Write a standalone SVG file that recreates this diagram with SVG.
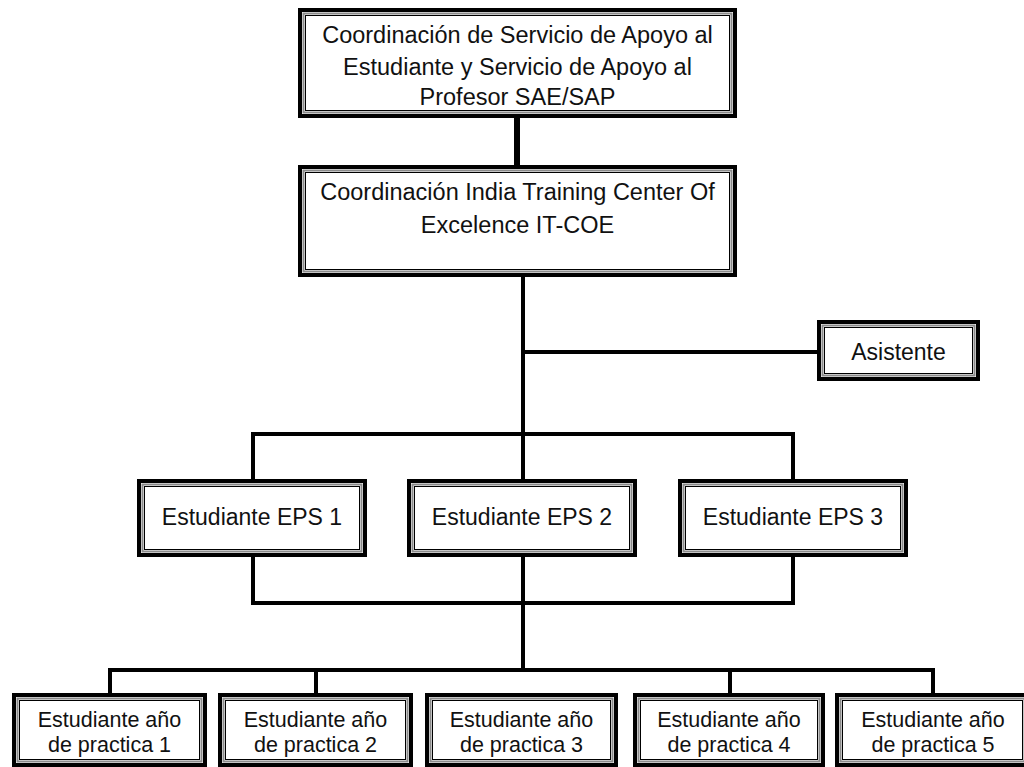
<svg xmlns="http://www.w3.org/2000/svg" width="1024" height="767" viewBox="0 0 1024 767">
  <style>
    .o { fill: #fff; stroke: #000; stroke-width: 4; }
    .g { fill: none; stroke: #8a8a8a; stroke-width: 2; }
    .i { fill: none; stroke: #000; stroke-width: 1; }
    .t { font-family: "Liberation Sans", Arial, sans-serif; font-size: 23px; fill: #111; text-anchor: middle; }
    .l { font-size: 23.5px; }
    .s { font-size: 21.5px; }
    .c { stroke: #000; stroke-width: 4; fill: none; stroke-linecap: square; }
  </style>

  <!-- connectors -->
  <g id="connectors">
    <line class="c" x1="517" y1="118" x2="517" y2="165" style="stroke-width:6"/>
    <line class="c" x1="523" y1="277" x2="523" y2="670"/>
    <line class="c" x1="523" y1="352" x2="817" y2="352"/>
    <polyline class="c" points="253,479 253,434 793,434 793,479"/>
    <polyline class="c" points="253,557 253,603 793,603 793,557"/>
    <polyline class="c" points="110,693 110,670 933,670 933,693"/>
    <line class="c" x1="316" y1="670" x2="316" y2="693"/>
    <line class="c" x1="730" y1="670" x2="730" y2="693"/>
  </g>

  <!-- Coordinación SAE/SAP -->
  <g id="sae-sap">
    <rect class="o" x="300" y="10" width="435" height="106"/>
    <rect class="g" x="303.5" y="13.5" width="428" height="99"/>
    <rect class="i" x="305.5" y="15.5" width="424" height="95"/>
    <text class="t l" x="517.5" y="43">Coordinación de Servicio de Apoyo al</text>
    <text class="t l" x="517.5" y="75">Estudiante y Servicio de Apoyo al</text>
    <text class="t l" x="517.5" y="105">Profesor SAE/SAP</text>
  </g>

  <!-- Coordinación IT-COE -->
  <g id="it-coe">
    <rect class="o" x="300" y="167" width="435" height="108"/>
    <rect class="g" x="303.5" y="170.5" width="428" height="101"/>
    <rect class="i" x="305.5" y="172.5" width="424" height="97"/>
    <text class="t l" x="517.5" y="200">Coordinación India Training Center Of</text>
    <text class="t l" x="517.5" y="233">Excelence IT-COE</text>
  </g>

  <!-- Asistente -->
  <g id="asistente">
    <rect class="o" x="819" y="322" width="159" height="57"/>
    <rect class="g" x="822.5" y="325.5" width="152" height="50"/>
    <rect class="i" x="824.5" y="327.5" width="148" height="46"/>
    <text class="t" x="898.5" y="360">Asistente</text>
  </g>

  <!-- Estudiantes EPS -->
  <g id="eps1">
    <rect class="o" x="139" y="481" width="226" height="74"/>
    <rect class="g" x="142.5" y="484.5" width="219" height="67"/>
    <rect class="i" x="144.5" y="486.5" width="215" height="63"/>
    <text class="t" x="252" y="525">Estudiante EPS 1</text>
  </g>
  <g id="eps2">
    <rect class="o" x="409" y="481" width="226" height="74"/>
    <rect class="g" x="412.5" y="484.5" width="219" height="67"/>
    <rect class="i" x="414.5" y="486.5" width="215" height="63"/>
    <text class="t" x="522" y="525">Estudiante EPS 2</text>
  </g>
  <g id="eps3">
    <rect class="o" x="680" y="481" width="226" height="74"/>
    <rect class="g" x="683.5" y="484.5" width="219" height="67"/>
    <rect class="i" x="685.5" y="486.5" width="215" height="63"/>
    <text class="t" x="793" y="525">Estudiante EPS 3</text>
  </g>

  <!-- Estudiantes año de practica -->
  <g id="practica1">
    <rect class="o" x="14" y="695" width="191" height="70"/>
    <rect class="g" x="17.5" y="698.5" width="184" height="63"/>
    <rect class="i" x="19.5" y="700.5" width="180" height="59"/>
    <text class="t s" x="109.5" y="727">Estudiante año</text>
    <text class="t s" x="109.5" y="752">de practica 1</text>
  </g>
  <g id="practica2">
    <rect class="o" x="220" y="695" width="191" height="70"/>
    <rect class="g" x="223.5" y="698.5" width="184" height="63"/>
    <rect class="i" x="225.5" y="700.5" width="180" height="59"/>
    <text class="t s" x="315.5" y="727">Estudiante año</text>
    <text class="t s" x="315.5" y="752">de practica 2</text>
  </g>
  <g id="practica3">
    <rect class="o" x="427" y="695" width="189" height="70"/>
    <rect class="g" x="430.5" y="698.5" width="182" height="63"/>
    <rect class="i" x="432.5" y="700.5" width="178" height="59"/>
    <text class="t s" x="521.5" y="727">Estudiante año</text>
    <text class="t s" x="521.5" y="752">de practica 3</text>
  </g>
  <g id="practica4">
    <rect class="o" x="635" y="695" width="188" height="70"/>
    <rect class="g" x="638.5" y="698.5" width="181" height="63"/>
    <rect class="i" x="640.5" y="700.5" width="177" height="59"/>
    <text class="t s" x="729" y="727">Estudiante año</text>
    <text class="t s" x="729" y="752">de practica 4</text>
  </g>
  <g id="practica5">
    <rect class="o" x="837" y="695" width="191" height="70"/>
    <rect class="g" x="840.5" y="698.5" width="184" height="63"/>
    <rect class="i" x="842.5" y="700.5" width="180" height="59"/>
    <text class="t s" x="933" y="727">Estudiante año</text>
    <text class="t s" x="933" y="752">de practica 5</text>
  </g>
</svg>
